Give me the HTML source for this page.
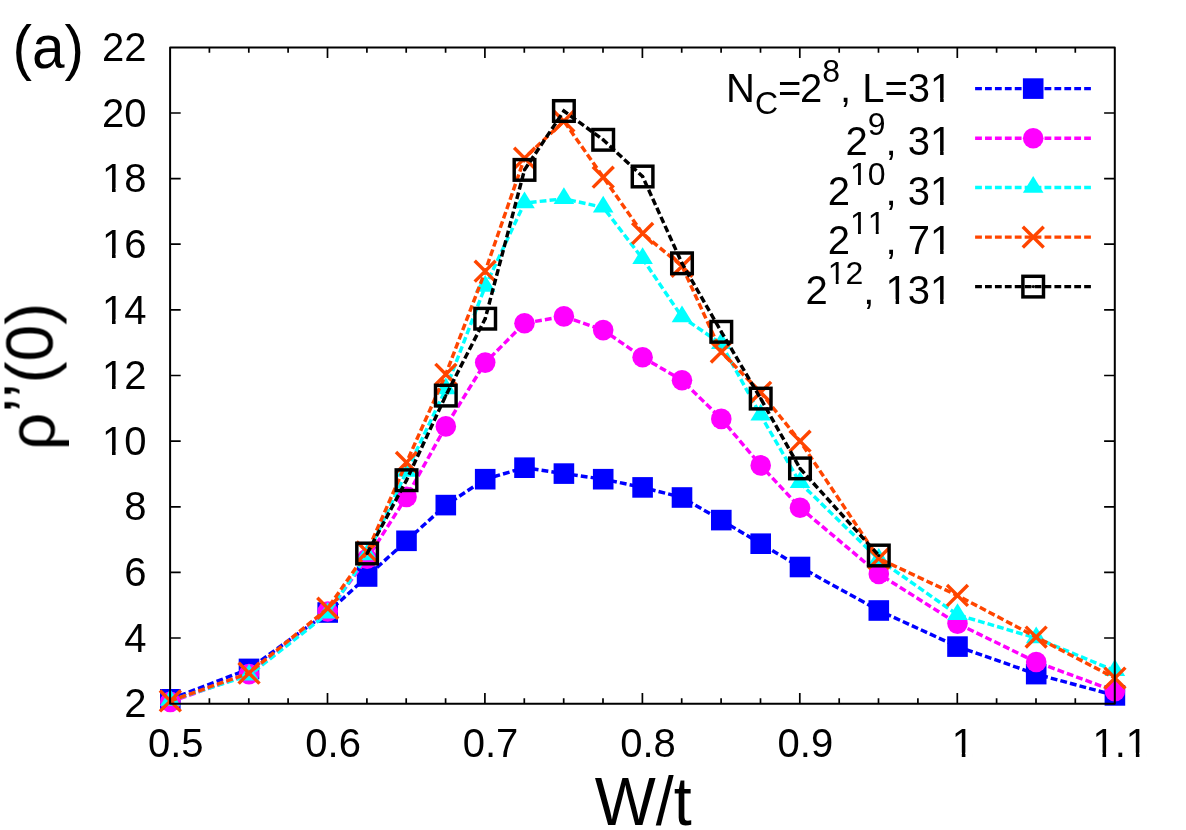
<!DOCTYPE html>
<html><head><meta charset="utf-8"><title>chart</title>
<style>
html,body{margin:0;padding:0;background:#fff;}
body{width:1186px;height:830px;overflow:hidden;position:relative;font-family:"Liberation Sans",sans-serif;}
</style></head><body>
<svg width="1186" height="830" viewBox="0 0 1186 830" style="position:absolute;left:0;top:0">
<defs><mask id="tm" maskUnits="userSpaceOnUse" x="0" y="0" width="1186" height="830"><rect x="0" y="0" width="1186" height="830" fill="#fff"/><g fill="#000"><rect x="104.2" y="450.4" width="7.8" height="5.3"/><rect x="115.6" y="450.4" width="7.5" height="5.3"/><rect x="104.2" y="384.8" width="7.8" height="5.3"/><rect x="115.6" y="384.8" width="7.5" height="5.3"/><rect x="104.2" y="319.2" width="7.8" height="5.3"/><rect x="115.6" y="319.2" width="7.5" height="5.3"/><rect x="104.2" y="253.5" width="7.8" height="5.3"/><rect x="115.6" y="253.5" width="7.5" height="5.3"/><rect x="104.2" y="187.9" width="7.8" height="5.3"/><rect x="115.6" y="187.9" width="7.5" height="5.3"/><rect x="954.0" y="752.7" width="7.8" height="5.3"/><rect x="965.4" y="752.7" width="7.5" height="5.3"/><rect x="1094.7" y="752.7" width="7.8" height="5.3"/><rect x="1106.1" y="752.7" width="7.5" height="5.3"/><rect x="1128.1" y="752.7" width="7.8" height="5.3"/><rect x="1139.4" y="752.7" width="7.5" height="5.3"/><rect x="932.3" y="97.9" width="7.8" height="5.3"/><rect x="943.7" y="97.9" width="7.5" height="5.3"/><rect x="932.3" y="150.9" width="7.8" height="5.3"/><rect x="943.6" y="150.9" width="7.5" height="5.3"/><rect x="851.6" y="180.8" width="6.4" height="4.7"/><rect x="860.9" y="180.8" width="6.2" height="4.7"/><rect x="932.3" y="200.2" width="7.8" height="5.3"/><rect x="943.6" y="200.2" width="7.5" height="5.3"/><rect x="851.6" y="230.4" width="6.4" height="4.7"/><rect x="860.9" y="230.4" width="6.2" height="4.7"/><rect x="869.4" y="230.4" width="6.4" height="4.7"/><rect x="878.7" y="230.4" width="6.2" height="4.7"/><rect x="932.3" y="249.8" width="7.8" height="5.3"/><rect x="943.6" y="249.8" width="7.5" height="5.3"/><rect x="829.4" y="279.9" width="6.4" height="4.7"/><rect x="838.6" y="279.9" width="6.2" height="4.7"/><rect x="887.8" y="299.3" width="7.8" height="5.3"/><rect x="899.1" y="299.3" width="7.5" height="5.3"/><rect x="932.3" y="299.3" width="7.8" height="5.3"/><rect x="943.6" y="299.3" width="7.5" height="5.3"/></g></mask></defs>
<rect x="0" y="0" width="1186" height="830" fill="#ffffff"/>
<g>
<line x1="975.1" y1="88.6" x2="1090.9" y2="88.6" stroke="#0000ff" stroke-width="3.45" stroke-dasharray="6.8 3.115"/>
<rect x="1022.9" y="78.3" width="20.6" height="20.6" fill="#0000ff"/>
<polyline points="170.3,699.3 249.0,668.9 327.7,612.5 367.1,576.5 406.5,540.8 445.8,505.1 485.2,479.2 524.5,467.7 563.9,473.6 603.2,479.2 642.6,487.4 682.0,497.5 721.3,520.1 760.7,543.7 800.0,567.0 878.8,610.5 957.5,646.6 1036.2,674.1 1114.9,695.4" fill="none" stroke="#0000ff" stroke-width="3.45" stroke-dasharray="6.8 3.115"/>
<rect x="160.0" y="689.0" width="20.6" height="20.6" fill="#0000ff"/>
<rect x="238.7" y="658.6" width="20.6" height="20.6" fill="#0000ff"/>
<rect x="317.4" y="602.2" width="20.6" height="20.6" fill="#0000ff"/>
<rect x="356.8" y="566.2" width="20.6" height="20.6" fill="#0000ff"/>
<rect x="396.2" y="530.5" width="20.6" height="20.6" fill="#0000ff"/>
<rect x="435.5" y="494.8" width="20.6" height="20.6" fill="#0000ff"/>
<rect x="474.9" y="468.9" width="20.6" height="20.6" fill="#0000ff"/>
<rect x="514.2" y="457.4" width="20.6" height="20.6" fill="#0000ff"/>
<rect x="553.6" y="463.3" width="20.6" height="20.6" fill="#0000ff"/>
<rect x="592.9" y="468.9" width="20.6" height="20.6" fill="#0000ff"/>
<rect x="632.3" y="477.1" width="20.6" height="20.6" fill="#0000ff"/>
<rect x="671.7" y="487.2" width="20.6" height="20.6" fill="#0000ff"/>
<rect x="711.0" y="509.8" width="20.6" height="20.6" fill="#0000ff"/>
<rect x="750.4" y="533.4" width="20.6" height="20.6" fill="#0000ff"/>
<rect x="789.7" y="556.7" width="20.6" height="20.6" fill="#0000ff"/>
<rect x="868.5" y="600.2" width="20.6" height="20.6" fill="#0000ff"/>
<rect x="947.2" y="636.3" width="20.6" height="20.6" fill="#0000ff"/>
<rect x="1025.9" y="663.8" width="20.6" height="20.6" fill="#0000ff"/>
<rect x="1104.6" y="685.1" width="20.6" height="20.6" fill="#0000ff"/>
</g>
<g>
<line x1="975.1" y1="138.2" x2="1090.9" y2="138.2" stroke="#ff00ff" stroke-width="3.45" stroke-dasharray="6.8 3.115"/>
<circle cx="1033.2" cy="138.2" r="10.3" fill="#ff00ff"/>
<polyline points="170.3,701.9 249.0,674.1 327.7,611.5 367.1,558.8 406.5,496.9 445.8,426.4 485.2,362.6 524.5,323.2 563.9,316.4 603.2,330.1 642.6,357.3 682.0,380.2 721.3,418.9 760.7,465.4 800.0,507.7 878.8,573.9 957.5,623.6 1036.2,662.0 1114.9,691.1" fill="none" stroke="#ff00ff" stroke-width="3.45" stroke-dasharray="6.8 3.115"/>
<circle cx="170.3" cy="701.9" r="10.3" fill="#ff00ff"/>
<circle cx="249.0" cy="674.1" r="10.3" fill="#ff00ff"/>
<circle cx="327.7" cy="611.5" r="10.3" fill="#ff00ff"/>
<circle cx="367.1" cy="558.8" r="10.3" fill="#ff00ff"/>
<circle cx="406.5" cy="496.9" r="10.3" fill="#ff00ff"/>
<circle cx="445.8" cy="426.4" r="10.3" fill="#ff00ff"/>
<circle cx="485.2" cy="362.6" r="10.3" fill="#ff00ff"/>
<circle cx="524.5" cy="323.2" r="10.3" fill="#ff00ff"/>
<circle cx="563.9" cy="316.4" r="10.3" fill="#ff00ff"/>
<circle cx="603.2" cy="330.1" r="10.3" fill="#ff00ff"/>
<circle cx="642.6" cy="357.3" r="10.3" fill="#ff00ff"/>
<circle cx="682.0" cy="380.2" r="10.3" fill="#ff00ff"/>
<circle cx="721.3" cy="418.9" r="10.3" fill="#ff00ff"/>
<circle cx="760.7" cy="465.4" r="10.3" fill="#ff00ff"/>
<circle cx="800.0" cy="507.7" r="10.3" fill="#ff00ff"/>
<circle cx="878.8" cy="573.9" r="10.3" fill="#ff00ff"/>
<circle cx="957.5" cy="623.6" r="10.3" fill="#ff00ff"/>
<circle cx="1036.2" cy="662.0" r="10.3" fill="#ff00ff"/>
<circle cx="1114.9" cy="691.1" r="10.3" fill="#ff00ff"/>
</g>
<g>
<line x1="975.1" y1="187.5" x2="1090.9" y2="187.5" stroke="#00ffff" stroke-width="3.45" stroke-dasharray="6.8 3.115"/>
<path d="M1033.2 176.0L1022.9 192.7L1043.5 192.7Z" fill="#00ffff"/>
<polyline points="170.3,700.6 249.0,675.4 327.7,613.5 367.1,555.2 406.5,471.6 445.8,389.1 485.2,286.5 524.5,203.0 563.9,198.8 603.2,207.3 642.6,258.7 682.0,317.0 721.3,343.9 760.7,415.3 800.0,482.8 878.8,559.4 957.5,614.8 1036.2,638.1 1114.9,670.8" fill="none" stroke="#00ffff" stroke-width="3.45" stroke-dasharray="6.8 3.115"/>
<path d="M170.3 689.1L160.0 705.8L180.6 705.8Z" fill="#00ffff"/>
<path d="M249.0 663.9L238.7 680.6L259.3 680.6Z" fill="#00ffff"/>
<path d="M327.7 602.0L317.4 618.6L338.0 618.6Z" fill="#00ffff"/>
<path d="M367.1 543.6L356.8 560.3L377.4 560.3Z" fill="#00ffff"/>
<path d="M406.5 460.1L396.2 476.8L416.8 476.8Z" fill="#00ffff"/>
<path d="M445.8 377.6L435.5 394.2L456.1 394.2Z" fill="#00ffff"/>
<path d="M485.2 275.0L474.9 291.7L495.5 291.7Z" fill="#00ffff"/>
<path d="M524.5 191.5L514.2 208.2L534.8 208.2Z" fill="#00ffff"/>
<path d="M563.9 187.2L553.6 203.9L574.2 203.9Z" fill="#00ffff"/>
<path d="M603.2 195.7L592.9 212.4L613.5 212.4Z" fill="#00ffff"/>
<path d="M642.6 247.2L632.3 263.9L652.9 263.9Z" fill="#00ffff"/>
<path d="M682.0 305.5L671.7 322.2L692.3 322.2Z" fill="#00ffff"/>
<path d="M721.3 332.3L711.0 349.0L731.6 349.0Z" fill="#00ffff"/>
<path d="M760.7 403.8L750.4 420.4L771.0 420.4Z" fill="#00ffff"/>
<path d="M800.0 471.2L789.7 487.9L810.3 487.9Z" fill="#00ffff"/>
<path d="M878.8 547.9L868.5 564.6L889.0 564.6Z" fill="#00ffff"/>
<path d="M957.5 603.3L947.2 620.0L967.8 620.0Z" fill="#00ffff"/>
<path d="M1036.2 626.5L1025.9 643.2L1046.5 643.2Z" fill="#00ffff"/>
<path d="M1114.9 659.3L1104.6 676.0L1125.2 676.0Z" fill="#00ffff"/>
</g>
<g>
<line x1="975.1" y1="237.1" x2="1090.9" y2="237.1" stroke="#ff4500" stroke-width="3.45" stroke-dasharray="6.8 3.115"/>
<path d="M1022.8 226.7L1043.7 247.5M1022.8 247.5L1043.7 226.7" stroke="#ff4500" stroke-width="3.45" fill="none"/>
<polyline points="170.3,701.0 249.0,673.1 327.7,608.3 367.1,551.9 406.5,462.5 445.8,374.3 485.2,271.2 524.5,158.1 563.9,121.1 603.2,177.1 642.6,233.5 682.0,266.2 721.3,352.1 760.7,392.4 800.0,441.2 878.8,558.5 957.5,595.5 1036.2,637.1 1114.9,678.0" fill="none" stroke="#ff4500" stroke-width="3.45" stroke-dasharray="6.8 3.115"/>
<path d="M159.9 690.5L180.8 711.4M159.9 711.4L180.8 690.5" stroke="#ff4500" stroke-width="3.45" fill="none"/>
<path d="M238.6 662.7L259.5 683.6M238.6 683.6L259.5 662.7" stroke="#ff4500" stroke-width="3.45" fill="none"/>
<path d="M317.3 597.8L338.2 618.7M317.3 618.7L338.2 597.8" stroke="#ff4500" stroke-width="3.45" fill="none"/>
<path d="M356.6 541.5L377.5 562.4M356.6 562.4L377.5 541.5" stroke="#ff4500" stroke-width="3.45" fill="none"/>
<path d="M396.0 452.0L416.9 472.9M396.0 472.9L416.9 452.0" stroke="#ff4500" stroke-width="3.45" fill="none"/>
<path d="M435.4 363.9L456.3 384.8M435.4 384.8L456.3 363.9" stroke="#ff4500" stroke-width="3.45" fill="none"/>
<path d="M474.7 260.7L495.6 281.6M474.7 281.6L495.6 260.7" stroke="#ff4500" stroke-width="3.45" fill="none"/>
<path d="M514.1 147.7L535.0 168.6M514.1 168.6L535.0 147.7" stroke="#ff4500" stroke-width="3.45" fill="none"/>
<path d="M553.4 110.7L574.3 131.6M553.4 131.6L574.3 110.7" stroke="#ff4500" stroke-width="3.45" fill="none"/>
<path d="M592.8 166.7L613.7 187.6M592.8 187.6L613.7 166.7" stroke="#ff4500" stroke-width="3.45" fill="none"/>
<path d="M632.2 223.0L653.1 243.9M632.2 243.9L653.1 223.0" stroke="#ff4500" stroke-width="3.45" fill="none"/>
<path d="M671.5 255.8L692.4 276.7M671.5 276.7L692.4 255.8" stroke="#ff4500" stroke-width="3.45" fill="none"/>
<path d="M710.9 341.6L731.8 362.5M710.9 362.5L731.8 341.6" stroke="#ff4500" stroke-width="3.45" fill="none"/>
<path d="M750.2 381.9L771.1 402.8M750.2 402.8L771.1 381.9" stroke="#ff4500" stroke-width="3.45" fill="none"/>
<path d="M789.6 430.7L810.5 451.6M789.6 451.6L810.5 430.7" stroke="#ff4500" stroke-width="3.45" fill="none"/>
<path d="M868.3 548.0L889.2 568.9M868.3 568.9L889.2 548.0" stroke="#ff4500" stroke-width="3.45" fill="none"/>
<path d="M947.0 585.0L967.9 605.9M947.0 605.9L967.9 585.0" stroke="#ff4500" stroke-width="3.45" fill="none"/>
<path d="M1025.7 626.6L1046.6 647.5M1025.7 647.5L1046.6 626.6" stroke="#ff4500" stroke-width="3.45" fill="none"/>
<path d="M1104.5 667.6L1125.4 688.5M1104.5 688.5L1125.4 667.6" stroke="#ff4500" stroke-width="3.45" fill="none"/>
</g>
<g>
<line x1="975.1" y1="286.6" x2="1090.9" y2="286.6" stroke="#000000" stroke-width="3.45" stroke-dasharray="6.8 3.115"/>
<rect x="1022.9" y="276.3" width="20.6" height="20.6" fill="none" stroke="#000000" stroke-width="3.45"/><circle cx="1033.2" cy="286.6" r="1.6" fill="#000000"/>
<polyline points="367.1,553.5 406.5,480.2 445.8,395.6 485.2,318.7 524.5,169.9 563.9,111.0 603.2,139.8 642.6,176.5 682.0,263.3 721.3,331.8 760.7,398.6 800.0,468.4 878.8,555.5" fill="none" stroke="#000000" stroke-width="3.45" stroke-dasharray="6.8 3.115"/>
<rect x="356.8" y="543.2" width="20.6" height="20.6" fill="none" stroke="#000000" stroke-width="3.45"/><circle cx="367.1" cy="553.5" r="1.6" fill="#000000"/>
<rect x="396.2" y="469.9" width="20.6" height="20.6" fill="none" stroke="#000000" stroke-width="3.45"/><circle cx="406.5" cy="480.2" r="1.6" fill="#000000"/>
<rect x="435.5" y="385.3" width="20.6" height="20.6" fill="none" stroke="#000000" stroke-width="3.45"/><circle cx="445.8" cy="395.6" r="1.6" fill="#000000"/>
<rect x="474.9" y="308.4" width="20.6" height="20.6" fill="none" stroke="#000000" stroke-width="3.45"/><circle cx="485.2" cy="318.7" r="1.6" fill="#000000"/>
<rect x="514.2" y="159.6" width="20.6" height="20.6" fill="none" stroke="#000000" stroke-width="3.45"/><circle cx="524.5" cy="169.9" r="1.6" fill="#000000"/>
<rect x="553.6" y="100.7" width="20.6" height="20.6" fill="none" stroke="#000000" stroke-width="3.45"/><circle cx="563.9" cy="111.0" r="1.6" fill="#000000"/>
<rect x="592.9" y="129.5" width="20.6" height="20.6" fill="none" stroke="#000000" stroke-width="3.45"/><circle cx="603.2" cy="139.8" r="1.6" fill="#000000"/>
<rect x="632.3" y="166.2" width="20.6" height="20.6" fill="none" stroke="#000000" stroke-width="3.45"/><circle cx="642.6" cy="176.5" r="1.6" fill="#000000"/>
<rect x="671.7" y="253.0" width="20.6" height="20.6" fill="none" stroke="#000000" stroke-width="3.45"/><circle cx="682.0" cy="263.3" r="1.6" fill="#000000"/>
<rect x="711.0" y="321.5" width="20.6" height="20.6" fill="none" stroke="#000000" stroke-width="3.45"/><circle cx="721.3" cy="331.8" r="1.6" fill="#000000"/>
<rect x="750.4" y="388.3" width="20.6" height="20.6" fill="none" stroke="#000000" stroke-width="3.45"/><circle cx="760.7" cy="398.6" r="1.6" fill="#000000"/>
<rect x="789.7" y="458.1" width="20.6" height="20.6" fill="none" stroke="#000000" stroke-width="3.45"/><circle cx="800.0" cy="468.4" r="1.6" fill="#000000"/>
<rect x="868.5" y="545.2" width="20.6" height="20.6" fill="none" stroke="#000000" stroke-width="3.45"/><circle cx="878.8" cy="555.5" r="1.6" fill="#000000"/>
</g>
<g stroke="#000" stroke-width="1.7" fill="none">
<path d="M209.4 703.6V698.2M209.4 47.4V52.8M248.8 703.6V698.2M248.8 47.4V52.8M288.1 703.6V698.2M288.1 47.4V52.8M327.5 703.6V693.0M327.5 47.4V58.0M366.9 703.6V698.2M366.9 47.4V52.8M406.2 703.6V698.2M406.2 47.4V52.8M445.6 703.6V698.2M445.6 47.4V52.8M484.9 703.6V693.0M484.9 47.4V58.0M524.3 703.6V698.2M524.3 47.4V52.8M563.7 703.6V698.2M563.7 47.4V52.8M603.0 703.6V698.2M603.0 47.4V52.8M642.4 703.6V693.0M642.4 47.4V58.0M681.7 703.6V698.2M681.7 47.4V52.8M721.1 703.6V698.2M721.1 47.4V52.8M760.5 703.6V698.2M760.5 47.4V52.8M799.8 703.6V693.0M799.8 47.4V58.0M839.2 703.6V698.2M839.2 47.4V52.8M878.5 703.6V698.2M878.5 47.4V52.8M917.9 703.6V698.2M917.9 47.4V52.8M957.3 703.6V693.0M957.3 47.4V58.0M996.6 703.6V698.2M996.6 47.4V52.8M1036.0 703.6V698.2M1036.0 47.4V52.8M1075.3 703.6V698.2M1075.3 47.4V52.8M170.1 638.0H180.7M1114.7 638.0H1104.1M170.1 572.4H180.7M1114.7 572.4H1104.1M170.1 506.8H180.7M1114.7 506.8H1104.1M170.1 441.1H180.7M1114.7 441.1H1104.1M170.1 375.5H180.7M1114.7 375.5H1104.1M170.1 309.9H180.7M1114.7 309.9H1104.1M170.1 244.2H180.7M1114.7 244.2H1104.1M170.1 178.6H180.7M1114.7 178.6H1104.1M170.1 113.0H180.7M1114.7 113.0H1104.1"/>
</g>
<rect x="170.1" y="47.4" width="944.7" height="656.3" fill="none" stroke="#000" stroke-width="2" stroke-linejoin="round"/>
<g font-family="Liberation Sans, sans-serif" fill="#000" style="font-kerning:none" mask="url(#tm)">
<text transform="translate(12.6,67.6) scale(0.975,1.015)" font-size="60">(a)</text>
<text x="146.5" y="717.2" font-size="40" text-anchor="end">2</text>
<text x="146.5" y="651.6" font-size="40" text-anchor="end">4</text>
<text x="146.5" y="586.0" font-size="40" text-anchor="end">6</text>
<text x="146.5" y="520.4" font-size="40" text-anchor="end">8</text>
<text x="146.5" y="454.7" font-size="40" text-anchor="end">10</text>
<text x="146.5" y="389.1" font-size="40" text-anchor="end">12</text>
<text x="146.5" y="323.5" font-size="40" text-anchor="end">14</text>
<text x="146.5" y="257.8" font-size="40" text-anchor="end">16</text>
<text x="146.5" y="192.2" font-size="40" text-anchor="end">18</text>
<text x="146.5" y="126.6" font-size="40" text-anchor="end">20</text>
<text x="146.5" y="61.0" font-size="40" text-anchor="end">22</text>
<text x="175.7" y="757" font-size="40" text-anchor="middle">0.5</text>
<text x="333.1" y="757" font-size="40" text-anchor="middle">0.6</text>
<text x="490.5" y="757" font-size="40" text-anchor="middle">0.7</text>
<text x="648.0" y="757" font-size="40" text-anchor="middle">0.8</text>
<text x="805.4" y="757" font-size="40" text-anchor="middle">0.9</text>
<text x="962.9" y="757" font-size="40" text-anchor="middle">1</text>
<text x="1120.3" y="757" font-size="40" text-anchor="middle">1.1</text>
<text transform="translate(643.2,824.6) scale(0.98,1.04)" font-size="66" text-anchor="middle">W/t</text>
<text transform="translate(55.5,376.5) rotate(-90)" font-size="66" text-anchor="middle"><tspan dy="-1">ρ</tspan><tspan dy="-3.7">’’</tspan><tspan dy="1.7">(0)</tspan></text>
<text x="724.6" y="102.2" font-size="40"><tspan dx="1.5">N</tspan><tspan font-size="32" dy="12">C</tspan><tspan dy="-12">=</tspan><tspan dx="-1.5">2</tspan><tspan font-size="32" dy="-20">8</tspan><tspan dy="20">, L=31</tspan></text>
<text x="952.3" y="155.2" font-size="40" text-anchor="end">2<tspan font-size="32" dy="-20">9</tspan><tspan dy="20">, 31</tspan></text>
<text x="952.3" y="204.5" font-size="40" text-anchor="end">2<tspan font-size="32" dy="-20">10</tspan><tspan dy="20">, 31</tspan></text>
<text x="952.3" y="254.1" font-size="40" text-anchor="end">2<tspan font-size="32" dy="-20">11</tspan><tspan dy="20">, 71</tspan></text>
<text x="952.3" y="303.6" font-size="40" text-anchor="end">2<tspan font-size="32" dy="-20">12</tspan><tspan dy="20">, 131</tspan></text>
</g>
</svg>
</body></html>
